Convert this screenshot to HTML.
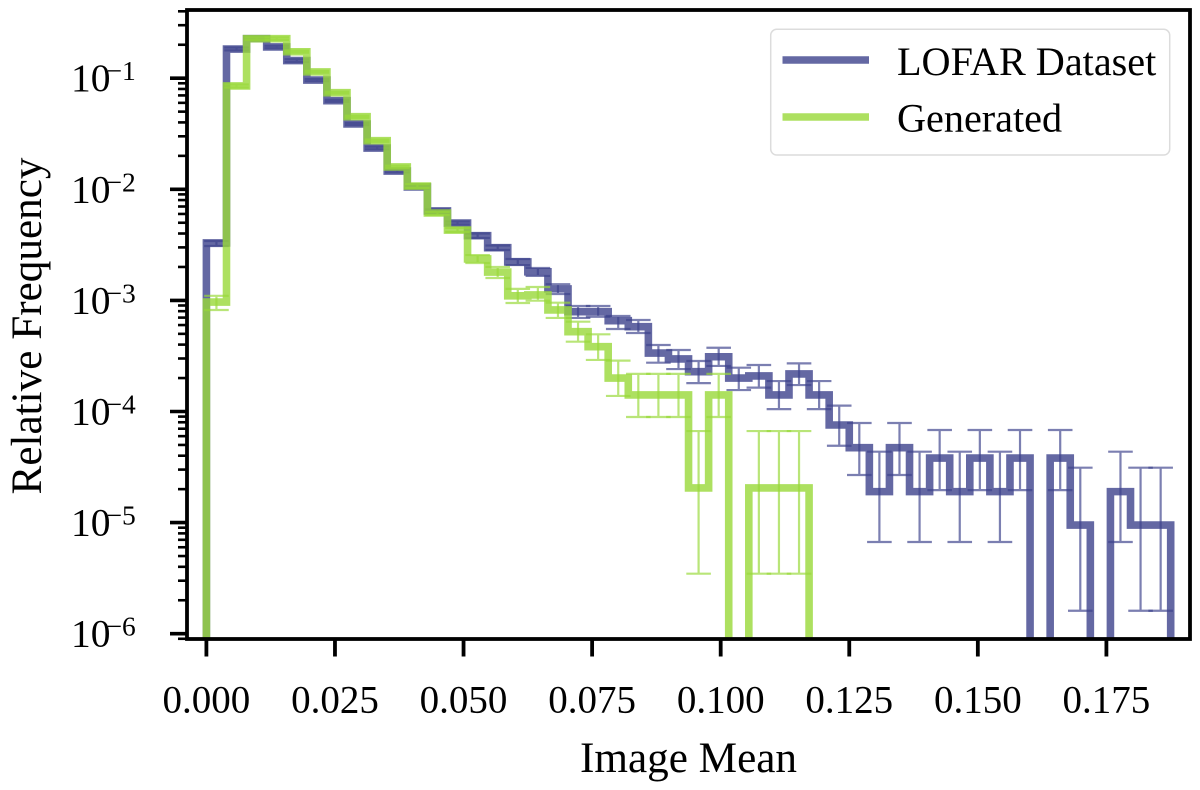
<!DOCTYPE html>
<html lang="en">
<head>
<meta charset="utf-8">
<title>Image Mean histogram</title>
<style>
  html, body { margin: 0; padding: 0; background: #fff; }
  svg { display: block; }
  text { font-family: "Liberation Serif", serif; fill: #000; }
</style>
</head>
<body>
<svg id="chart" xmlns="http://www.w3.org/2000/svg" width="1200" height="790" viewBox="0 0 1200 790">
  <defs>
    <clipPath id="plot-clip"><rect x="187" y="10" width="1003" height="629"></rect></clipPath>
  </defs>
  <rect x="0" y="0" width="1200" height="790" fill="#fff"></rect>
  <g id="series-layer" clip-path="url(#plot-clip)"></g>
  <g id="tick-layer"></g>
  <rect x="187" y="10" width="1003" height="629" fill="none" stroke="#000" stroke-width="3.8"></rect>
  <text x="688.5" y="772" font-size="43.2" text-anchor="middle">Image Mean</text>
  <text x="0" y="0" font-size="43.2" text-anchor="middle" transform="translate(41,326) rotate(-90)">Relative Frequency</text>
  <g>
    <rect x="770.7" y="29.3" width="399" height="125.7" rx="6" ry="6" fill="#fff" fill-opacity="0.8" stroke="#dcdcdc" stroke-width="1.5"></rect>
    <line x1="782.5" x2="869" y1="60" y2="60" stroke="#3d428c" stroke-opacity="0.8" stroke-width="7.4"></line>
    <text x="897" y="75" font-size="40.2">LOFAR Dataset</text>
    <line x1="782.5" x2="869" y1="117" y2="117" stroke="#98d838" stroke-opacity="0.8" stroke-width="7.4"></line>
    <text x="897" y="131.7" font-size="40.2">Generated</text>
  </g>
</svg>
<script>
const binWidth = 0.00390625;

const lofarValues = [3.29e-3,0.183,0.227,0.191,0.144,0.0963,0.0627,0.0387,0.0235,0.0146,0.0105,6.38e-3,4.97e-3,3.82e-3,2.98e-3,2.22e-3,1.81e-3,1.27e-3,7.91e-4,7.91e-4,6.57e-4,5.80e-4,3.36e-4,2.97e-4,2.28e-4,3.11e-4,2.00e-4,2.09e-4,1.41e-4,2.18e-4,1.41e-4,7.56e-5,4.72e-5,1.90e-5,4.72e-5,1.90e-5,3.81e-5,1.90e-5,3.81e-5,1.90e-5,3.81e-5,0,3.81e-5,9.51e-6,0,1.90e-5,9.51e-6,9.51e-6];
const lofarUpper = [3.42e-3,0.189,0.233,0.196,0.148,0.0985,0.0640,0.0396,0.0242,0.0150,0.0108,6.6e-3,5.13e-3,4.00e-3,3.12e-3,2.36e-3,1.96e-3,1.40e-3,8.9e-4,8.9e-4,7.24e-4,6.66e-4,3.97e-4,3.58e-4,2.85e-4,3.75e-4,2.48e-4,2.62e-4,1.88e-4,2.71e-4,1.88e-4,1.13e-4,7.88e-5,4.35e-5,7.88e-5,4.35e-5,6.81e-5,4.35e-5,6.81e-5,4.35e-5,6.81e-5,0,6.81e-5,3.12e-5,0,4.35e-5,3.12e-5,3.12e-5];
const lofarLower = [3.09e-3,0.178,0.221,0.186,0.140,0.0940,0.0614,0.0378,0.0229,0.0142,0.0102,6.16e-3,4.82e-3,3.65e-3,2.84e-3,2.08e-3,1.66e-3,1.14e-3,6.95e-4,7.13e-4,5.53e-4,5.09e-4,2.75e-4,2.41e-4,1.80e-4,2.57e-4,1.56e-4,1.64e-4,1.05e-4,1.73e-4,1.05e-4,4.92e-5,2.68e-5,6.69e-6,2.68e-5,6.69e-6,1.96e-5,6.69e-6,1.96e-5,6.69e-6,1.96e-5,0,1.96e-5,1.61e-6,0,6.69e-6,1.61e-6,1.61e-6];

const generatedValues = [9.67e-4,0.0851,0.227,0.227,0.173,0.114,0.0741,0.0450,0.0274,0.0159,0.0107,6.12e-3,4.30e-3,2.36e-3,1.80e-3,1.10e-3,1.12e-3,8.2e-4,5.23e-4,3.83e-4,2.00e-4,1.41e-4,1.41e-4,1.41e-4,2.05e-5,1.41e-4,0,2.05e-5,2.05e-5,2.05e-5,0,0,0,0,0,0,0,0,0,0,0,0,0,0,0,0,0,0];
const generatedUpper = [1.10e-3,0.0878,0.233,0.233,0.177,0.1165,0.0755,0.0460,0.0280,0.0163,0.0111,6.25e-3,4.49e-3,2.56e-3,2.00e-3,1.27e-3,1.32e-3,9.54e-4,6.43e-4,4.95e-4,2.87e-4,2.18e-4,2.18e-4,2.18e-4,6.67e-5,2.18e-4,0,6.67e-5,6.67e-5,6.67e-5,0,0,0,0,0,0,0,0,0,0,0,0,0,0,0,0,0,0];
const generatedLower = [8.2e-4,0.0825,0.221,0.221,0.170,0.1123,0.0727,0.0440,0.0268,0.0155,0.0103,5.87e-3,4.13e-3,2.17e-3,1.59e-3,9.48e-4,9.94e-4,6.95e-4,4.25e-4,2.91e-4,1.38e-4,8.92e-5,8.92e-5,8.92e-5,3.47e-6,8.92e-5,0,3.47e-6,3.47e-6,3.47e-6,0,0,0,0,0,0,0,0,0,0,0,0,0,0,0,0,0,0];

const xTickValues = [0, 0.025, 0.05, 0.075, 0.1, 0.125, 0.15, 0.175];
const xTickLabels = ["0.000", "0.025", "0.050", "0.075", "0.100", "0.125", "0.150", "0.175"];
const yTickExponents = [-1, -2, -3, -4, -5, -6];
const yTickLabels = ["\u22121", "\u22122", "\u22123", "\u22124", "\u22125", "\u22126"];

const SVG_NS = "http://www.w3.org/2000/svg";
const seriesLayer = document.getElementById("series-layer");
const tickLayer = document.getElementById("tick-layer");

function xScale(v) { return 206.4 + v * 5142.9; }
function yScale(v) {
  if (v <= 0) return 720;
  return 78.2 - (Math.log10(v) + 1) * 111.1;
}

function stepPath(values) {
  let d = "M" + xScale(0) + " " + yScale(0);
  values.forEach(function (v, i) {
    const y = yScale(v);
    d += "L" + xScale(i * binWidth) + " " + y;
    d += "L" + xScale((i + 1) * binWidth) + " " + y;
  });
  d += "L" + xScale(values.length * binWidth) + " " + yScale(0);
  return d;
}

function drawHistogram(values, color, name) {
  const p = document.createElementNS(SVG_NS, "path");
  
  
  p.setAttribute("data-series", name);
  p.setAttribute("d", stepPath(values));
  p.setAttribute("fill", "none");
  p.setAttribute("stroke", color);
  p.setAttribute("stroke-opacity", "0.8");
  p.setAttribute("stroke-width", "7.6");
  p.setAttribute("stroke-linejoin", "miter");
  seriesLayer.appendChild(p);
}

function drawErrors(upper, lower, color, name) {
  const capHalf = 12.3;
  upper.forEach(function (u, i) {
    if (u <= 0 || lower[i] <= 0) return;
    const x = xScale((i + 0.5) * binWidth);
    const yU = yScale(u);
    const yL = yScale(lower[i]);
    const d = "M" + x + " " + yU + "L" + x + " " + yL +
      "M" + (x - capHalf) + " " + yU + "L" + (x + capHalf) + " " + yU +
      "M" + (x - capHalf) + " " + yL + "L" + (x + capHalf) + " " + yL;
    const e = document.createElementNS(SVG_NS, "path");
    
    
    e.setAttribute("data-series", name);
    e.setAttribute("d", d);
    e.setAttribute("fill", "none");
    e.setAttribute("stroke", color);
    e.setAttribute("stroke-opacity", "0.68");
    e.setAttribute("stroke-width", "2.2");
    seriesLayer.appendChild(e);
  });
}

drawHistogram(lofarValues, "#3d428c", "lofar");
drawErrors(lofarUpper, lofarLower, "#3d428c", "lofar");
drawHistogram(generatedValues, "#98d838", "generated");
drawErrors(generatedUpper, generatedLower, "#98d838", "generated");

function addTick(x1, y1, x2, y2, width, name) {
  const l = document.createElementNS(SVG_NS, "line");
  
  
  l.setAttribute("x1", x1);
  l.setAttribute("y1", y1);
  l.setAttribute("x2", x2);
  l.setAttribute("y2", y2);
  l.setAttribute("stroke", "#000");
  l.setAttribute("stroke-width", width);
  tickLayer.appendChild(l);
}

function addText(x, y, size, anchor, content, name) {
  const t = document.createElementNS(SVG_NS, "text");
  
  
  t.setAttribute("x", x);
  t.setAttribute("y", y);
  t.setAttribute("font-size", size);
  t.setAttribute("text-anchor", anchor);
  t.textContent = content;
  tickLayer.appendChild(t);
}

xTickValues.forEach(function (v, i) {
  const x = xScale(v);
  addTick(x, 639, x, 656.5, 3.8, "x-major-tick");
  addText(x, 712.7, 39, "middle", xTickLabels[i], "x-tick-label");
});

yTickExponents.forEach(function (exp, i) {
  const y = yScale(Math.pow(10, exp));
  addTick(170, y, 187, y, 3.6, "y-major-tick");
  addText(71, y + 13, 39.5, "start", "10", "y-tick-label-base");
  addText(106.5, y + 2, 27.5, "start", yTickLabels[i], "y-tick-label-exponent");
});

[-7, -6, -5, -4, -3, -2, -1].forEach(function (exp) {
  for (let m = 2; m <= 9; m++) {
    const y = yScale(m * Math.pow(10, exp));
    if (y < 10 || y > 640) continue;
    addTick(178, y, 187, y, 2.6, "y-minor-tick");
  }
});
</script>
</body>
</html>
